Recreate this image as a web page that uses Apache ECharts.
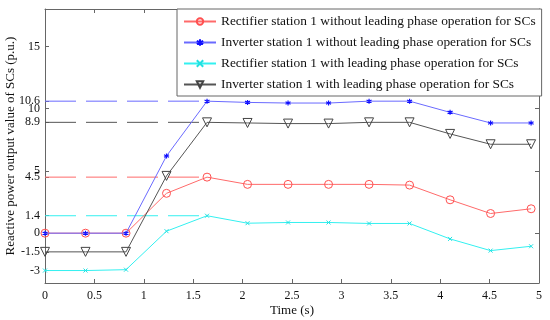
<!DOCTYPE html>
<html>
<head>
<meta charset="utf-8">
<script src="https://cdn.jsdelivr.net/npm/echarts@6/dist/echarts.min.js"></script>
<style>html,body{margin:0;padding:0;background:#fff}#c{width:550px;height:320px}</style>
</head>
<body>
<div id="c"></div>
<script>
var times = [0, 0.41, 0.82, 1.23, 1.64, 2.05, 2.46, 2.87, 3.28, 3.69, 4.10, 4.51, 4.92];
var rectNoLead = [0, 0, 0, 3.2, 4.5, 3.92, 3.92, 3.92, 3.92, 3.86, 2.68, 1.58, 1.96];
var invNoLead = [0, 0, 0, 6.2, 10.6, 10.5, 10.45, 10.45, 10.6, 10.6, 9.7, 8.85, 8.85];
var rectLead = [-3, -3, -2.93, 0.16, 1.4, 0.8, 0.86, 0.86, 0.78, 0.78, -0.46, -1.4, -1.05];
var invLead = [-1.5, -1.5, -1.5, 4.6, 8.9, 8.85, 8.8, 8.8, 8.9, 8.9, 7.97, 7.14, 7.14];
var seriesNames = [
  'Rectifier station 1 without leading phase operation for SCs',
  'Inverter station 1 without leading phase operation for SCs',
  'Rectifier station 1 with leading phase operation for SCs',
  'Inverter station 1 with leading phase operation for SCs'
];
var yTickLabels = [-3, -1.5, 0, 1.4, 4.5, 5, 8.9, 10, 10.6, 15];
var yRightTicks = [0, 5, 10, 15];
var refLevels = [4.5, 10.6, 1.4, 8.9];
var refEndX = 1.64;

function pairs(ys) { return times.map(function (t, i) { return [t, ys[i]]; }); }
var FONT = '"Liberation Serif", "DejaVu Serif", serif';
var colors = ['#ff6a6a', '#6a6aff', '#33f0f0', '#555555'];

function refSeries(i) {
  return {
    name: 'ref' + i, type: 'line', silent: true, symbol: 'none', z: 1,
    data: [[0, refLevels[i]], [refEndX, refLevels[i]]],
    lineStyle: { color: colors[i], type: [31, 10], width: 1 },
    itemStyle: { color: colors[i] }
  };
}

var chart = echarts.init(document.getElementById('c'));
chart.setOption({
  animation: false,
  textStyle: { fontFamily: FONT },
  grid: { left: 45, right: 11, top: 9, bottom: 37, outerBoundsMode: 'none', containLabel: false },
  legend: {
    data: seriesNames, orient: 'vertical', left: 177, top: 9,
    padding: [6, 6, 5, 6], itemWidth: 32, itemHeight: 8, itemGap: 8,
    backgroundColor: '#fff', borderColor: '#666', borderWidth: 1, borderRadius: 0,
    textStyle: { fontFamily: FONT, fontSize: 13.4, lineHeight: 12, color: '#111' }
  },
  xAxis: [{
    type: 'value', min: 0, max: 5, interval: 0.5, position: 'bottom',
    name: 'Time (s)', nameLocation: 'middle', nameGap: 21, nameMoveOverlap: false,
    nameTextStyle: { fontFamily: FONT, fontSize: 13, color: '#111' },
    axisLine: { onZero: false, lineStyle: { color: '#666' } },
    axisTick: { inside: true, length: 4, lineStyle: { color: '#666' } },
    axisLabel: { fontFamily: FONT, fontSize: 12, color: '#111', margin: 7 },
    splitLine: { show: false }
  }, {
    type: 'value', min: 0, max: 5, interval: 0.5, position: 'top',
    axisLine: { onZero: false, lineStyle: { color: '#666' } },
    axisTick: { inside: true, length: 4, lineStyle: { color: '#666' } },
    axisLabel: { show: false }, splitLine: { show: false }
  }],
  yAxis: [{
    type: 'value', min: -4, max: 18, position: 'left',
    name: 'Reactive power output value of SCs (p.u.)', nameLocation: 'middle', nameGap: 28, nameMoveOverlap: false,
    nameTextStyle: { fontFamily: FONT, fontSize: 13, color: '#111' },
    axisLine: { onZero: false, lineStyle: { color: '#666' } },
    axisTick: { inside: true, length: 4, customValues: yTickLabels, lineStyle: { color: '#666' } },
    axisLabel: { fontFamily: FONT, fontSize: 12, color: '#111', margin: 5, customValues: yTickLabels, hideOverlap: false },
    splitLine: { show: false }
  }, {
    type: 'value', min: -4, max: 18, position: 'right',
    axisLine: { onZero: false, lineStyle: { color: '#666' } },
    axisTick: { inside: true, length: 4, customValues: yRightTicks, lineStyle: { color: '#666' } },
    axisLabel: { show: false }, splitLine: { show: false }
  }],
  series: [refSeries(0), refSeries(1), refSeries(2), refSeries(3), {
    name: seriesNames[0], type: 'line', data: pairs(rectNoLead),
    symbol: 'circle', symbolSize: 8,
    lineStyle: { color: colors[0], width: 1 },
    itemStyle: { color: 'rgba(255,255,255,0)', borderColor: '#ff5050', borderWidth: 1 },
    z: 2
  }, {
    name: seriesNames[1], type: 'line', data: pairs(invNoLead),
    symbol: 'path://M0,-1L0,1M-0.87,-0.5L0.87,0.5M-0.87,0.5L0.87,-0.5', symbolSize: 5,
    lineStyle: { color: colors[1], width: 1 },
    itemStyle: { color: '#1010ff', borderColor: '#1010ff', borderWidth: 1.2 },
    z: 3
  }, {
    name: seriesNames[2], type: 'line', data: pairs(rectLead),
    symbol: 'path://M-1,-1L1,1M-1,1L1,-1', symbolSize: 4,
    lineStyle: { color: colors[2], width: 1 },
    itemStyle: { color: '#22e0e0', borderColor: '#22e0e0', borderWidth: 1 },
    z: 2
  }, {
    name: seriesNames[3], type: 'line', data: pairs(invLead),
    symbol: 'triangle', symbolRotate: 180, symbolSize: 9,
    lineStyle: { color: colors[3], width: 1 },
    itemStyle: { color: 'rgba(255,255,255,0)', borderColor: '#444', borderWidth: 1 },
    z: 2
  }]
});
</script>
</body>
</html>
